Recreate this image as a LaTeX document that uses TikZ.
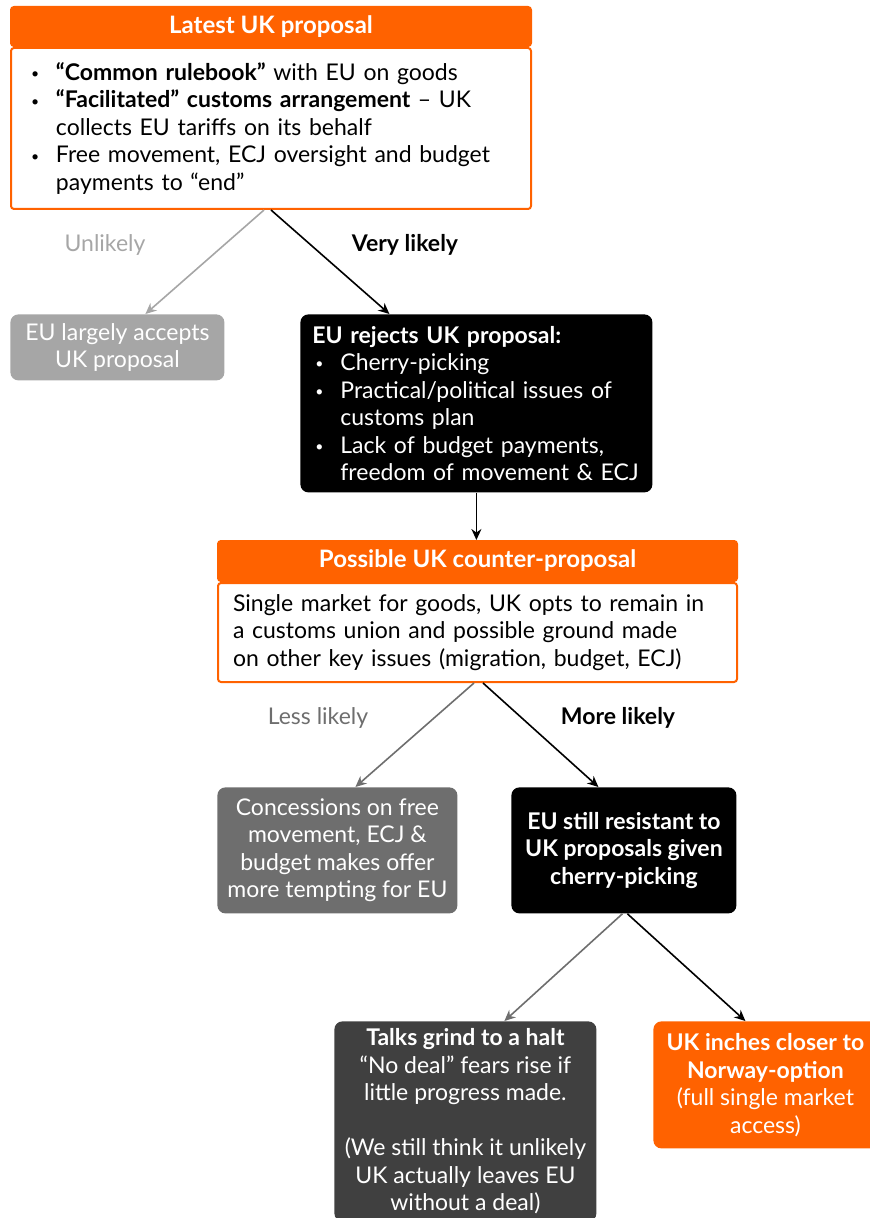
\documentclass[tikz,border=0pt]{standalone}
\usepackage{fontspec}
\setmainfont{Lato}
\usetikzlibrary{arrows.meta}
\usetikzlibrary{positioning}

\definecolor{ingorange}{HTML}{FF6200}
\definecolor{palegrey}{HTML}{A6A6A6}
\definecolor{midgrey}{HTML}{6E6E6E}
\definecolor{darkgrey}{HTML}{404040}

\newcommand{\bul}{\makebox[12.5pt][l]{\raisebox{0.15ex}{\scriptsize\textbullet}}}

\begin{document}
\begin{tikzpicture}[x=0.5pt,y=-0.5pt,
  every node/.style={font=\fontsize{11.5}{13.75}\selectfont},
  head/.style={fill=ingorange,draw=ingorange,line width=1pt,text=white,
    font=\bfseries\fontsize{12}{14}\selectfont,minimum height=19.5pt,
    inner sep=0pt,rounded corners=1.5pt},
  body/.style={fill=white,draw=ingorange,line width=1pt,align=left,
    inner ysep=0pt,rounded corners=1.5pt},
  outcome/.style={rounded corners=4pt,text=white,align=center,inner sep=0pt},
  arr/.style={-{Stealth[length=5.5pt,width=5pt]},line width=0.8pt},
  ]
\useasboundingbox (0,0) rectangle (870,1218);

% latest proposal
\node[body,minimum width=260pt,minimum height=80.5pt,text width=240pt,
  inner xsep=10pt,anchor=north west] (prop) at (10,47)
  {\bul\textbf{“Common rulebook”} with EU on goods\\
   \bul\textbf{“Facilitated” customs arrangement} – UK\\
   \hspace*{12.5pt}collects EU tariffs on its behalf\\
   \bul Free movement, ECJ oversight and budget\\
   \hspace*{12.5pt}payments to “end”};
\node[head,minimum width=260pt,anchor=south] (propHead) at (prop.north) {Latest UK proposal};

% first split
\node[outcome,fill=palegrey,minimum width=107pt,minimum height=33pt,
  anchor=north west] (accept) at (10,314) {EU largely accepts\\UK proposal};
\node[outcome,fill=black,minimum width=176pt,minimum height=89pt,
  text width=164pt,inner xsep=6pt,align=left,anchor=north west] (rej) at (300,314)
  {\textbf{EU rejects UK proposal:}\\
   \hspace*{1.5pt}\bul Cherry-picking\\
   \hspace*{1.5pt}\bul Practical/political issues of\\
   \hspace*{14pt}customs plan\\
   \hspace*{1.5pt}\bul Lack of budget payments,\\
   \hspace*{14pt}freedom of movement \& ECJ};
\node[text=palegrey] (lblUnlikely) at (105,245) {Unlikely};
\node[font=\bfseries\fontsize{11.5}{13.75}\selectfont] (lblVery) at (405,245) {Very likely};

\draw[arr,palegrey] ([xshift=-3.5pt]prop.south) -- ([xshift=14pt]accept.north);
\draw[arr,black] (prop.south) -- ([xshift=-43.5pt]rej.north);

% counter-proposal
\node[body,minimum width=259.5pt,minimum height=49.5pt,text width=244.5pt,
  inner xsep=7.5pt,anchor=north west] (cp) at (217,582)
  {Single market for goods, UK opts to remain in\\
   a customs union and possible ground made\\
   on other key issues (migration, budget, ECJ)};
\node[head,minimum width=259.5pt,minimum height=20pt,anchor=south] (cpHead) at (cp.north)
  {Possible UK counter-proposal};
\draw[arr,black] (rej.south) -- (rej.south |- cpHead.north);

% second split
\node[outcome,fill=midgrey,minimum width=120pt,minimum height=63pt,
  anchor=north west] (conc) at (217,787)
  {Concessions on free\\movement, ECJ \&\\budget makes offer\\more tempting for EU};
\node[outcome,fill=black,minimum width=112.5pt,minimum height=63pt,
  font=\bfseries\fontsize{11.5}{13.75}\selectfont,anchor=north west] (resist) at (511,787)
  {EU still resistant to\\UK proposals given\\cherry-picking};
\node[text=midgrey] (lblLess) at (318,718) {Less likely};
\node[font=\bfseries\fontsize{11.5}{13.75}\selectfont] (lblMore) at (618,718) {More likely};

\draw[arr,midgrey] ([xshift=-1.75pt]cp.south) -- ([xshift=9pt]conc.north);
\draw[arr,black] ([xshift=2.75pt]cp.south) -- ([xshift=-12.75pt]resist.north);

% final outcomes
\node[outcome,fill=darkgrey,minimum width=131pt,minimum height=100pt,
  anchor=north west] (halt) at (334,1021)
  {\textbf{Talks grind to a halt}\\“No deal” fears rise if\\little progress made.\\[13.75pt]
   (We still think it unlikely\\UK actually leaves EU\\without a deal)};
\node[outcome,fill=ingorange,minimum width=112pt,minimum height=63.5pt,
  anchor=north west] (norway) at (653,1021)
  {\textbf{UK inches closer to}\\\textbf{Norway-option}\\(full single market\\access)};

\draw[arr,midgrey] ([xshift=-0.75pt]resist.south) -- ([xshift=19.5pt]halt.north);
\draw[arr,black] ([xshift=1.75pt]resist.south) -- ([xshift=-10pt]norway.north);
\end{tikzpicture}
\end{document}
